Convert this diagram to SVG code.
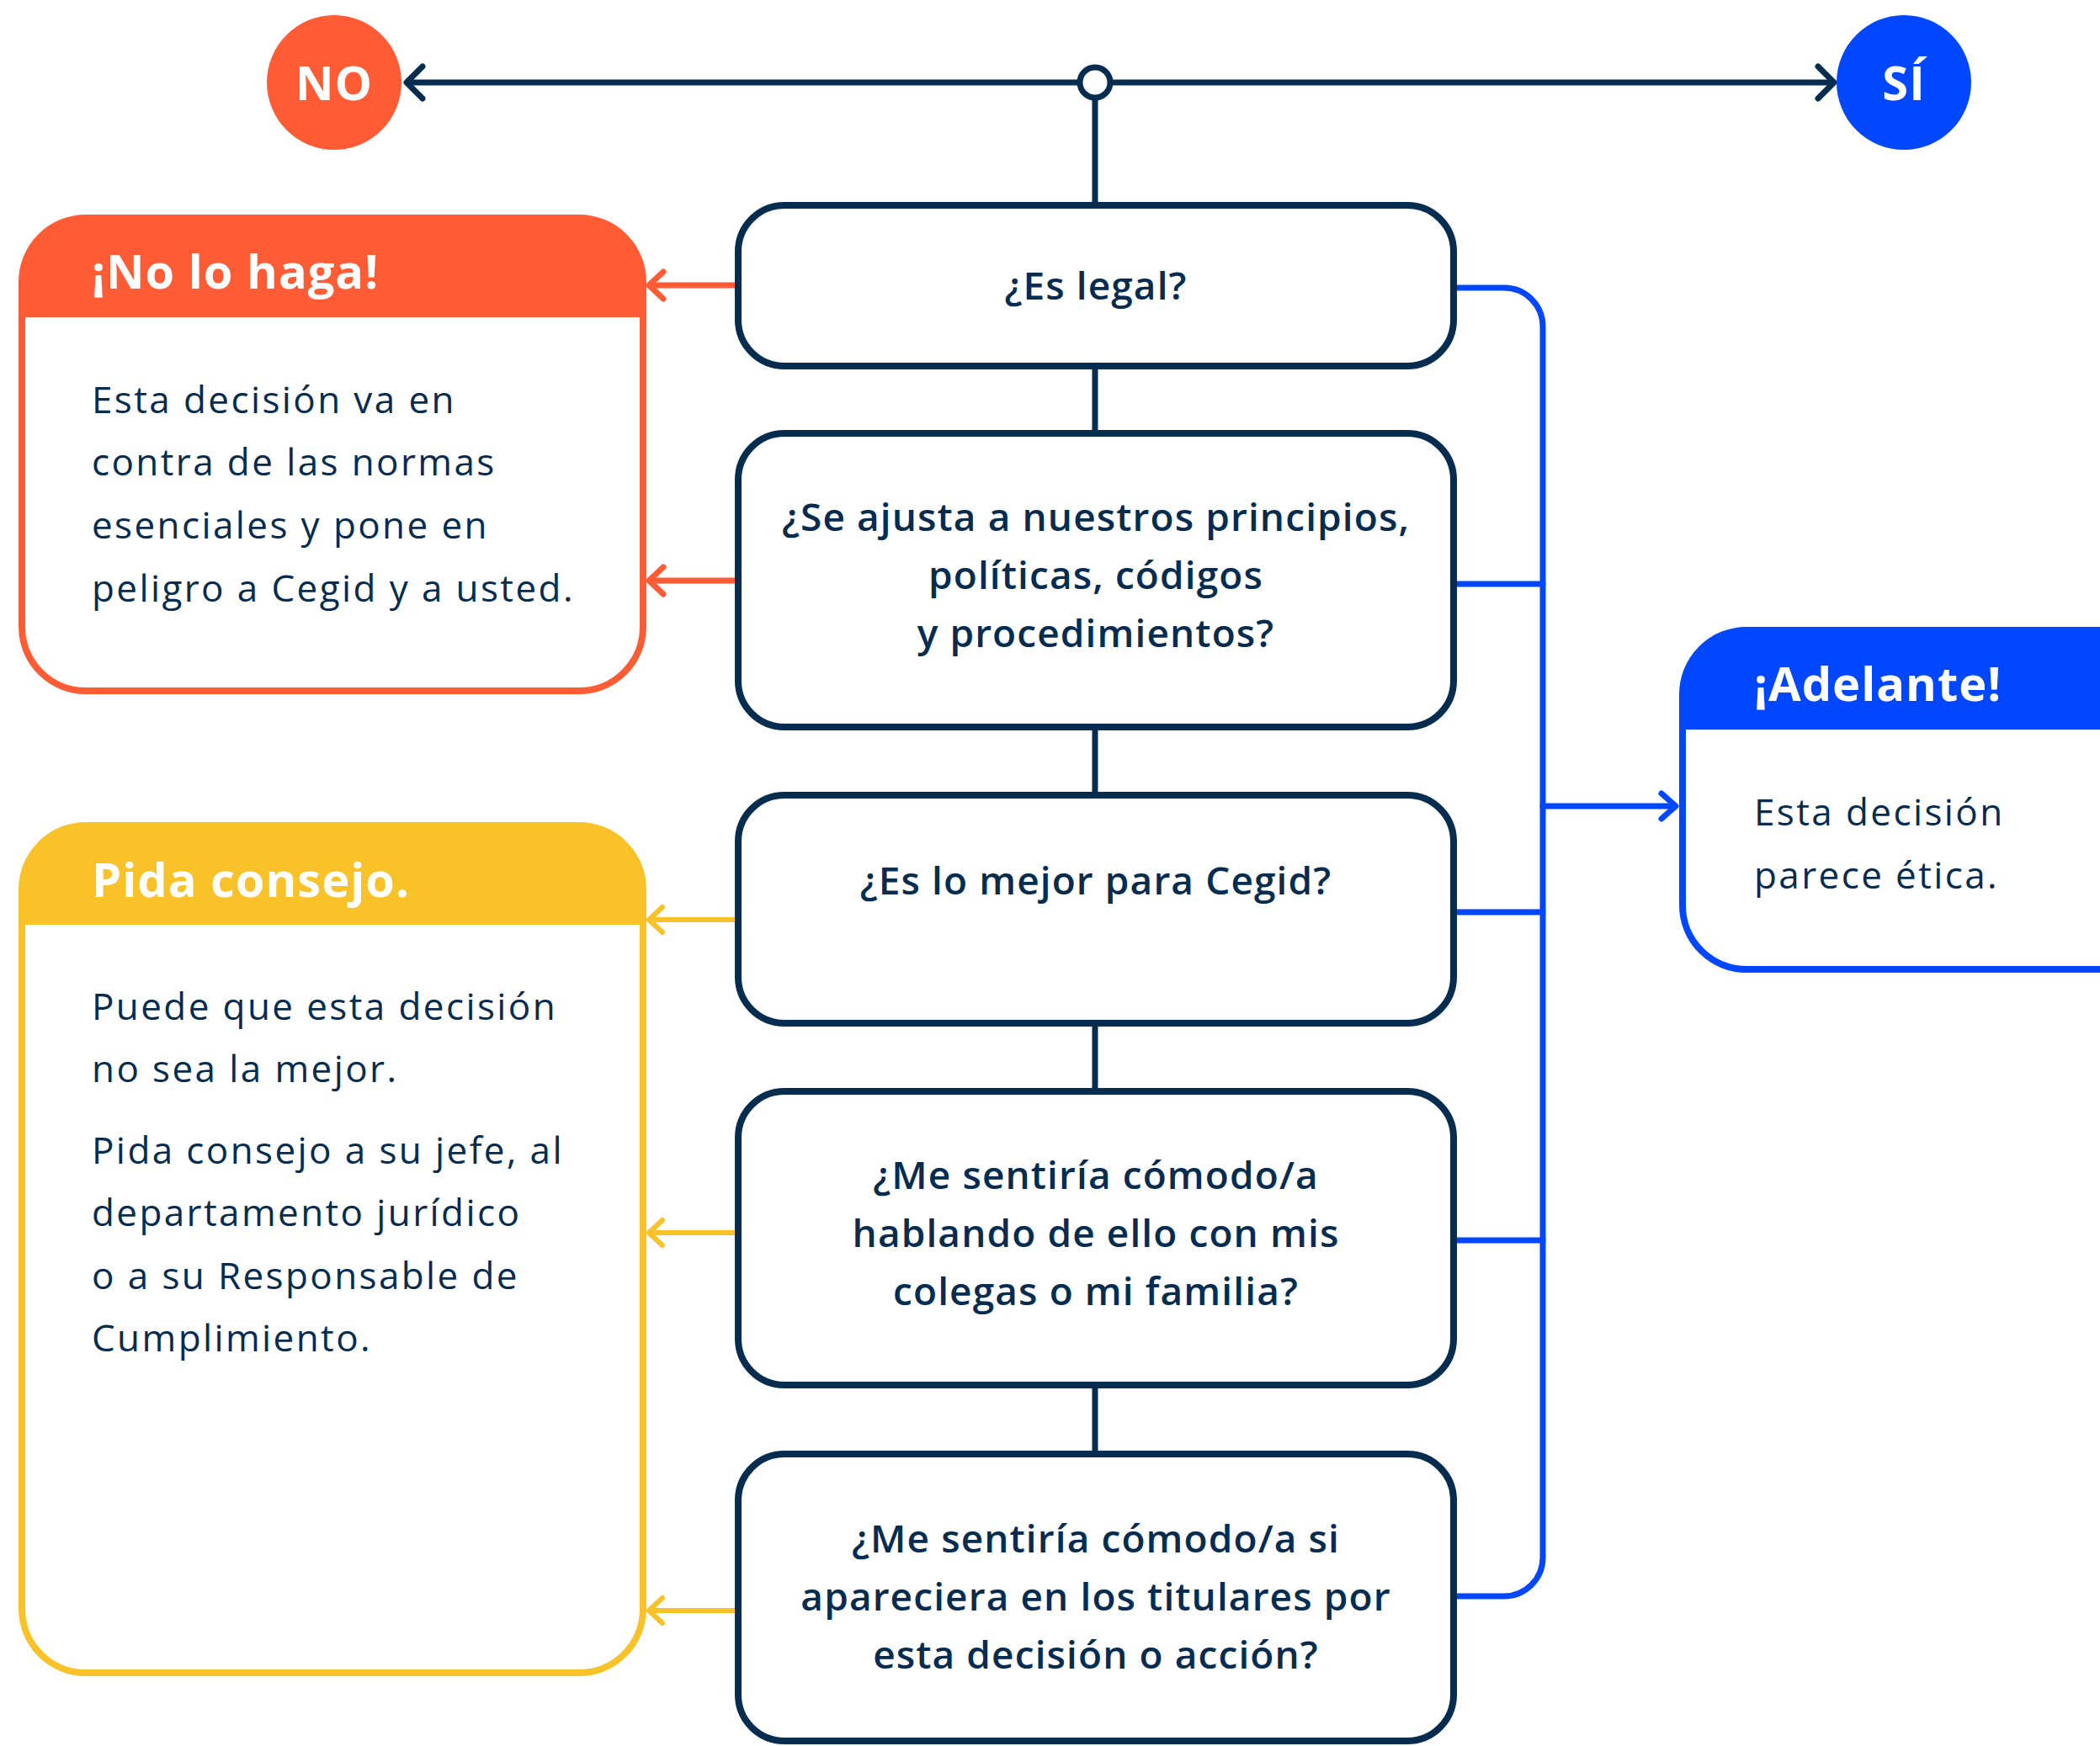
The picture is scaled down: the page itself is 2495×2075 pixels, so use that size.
<svg xmlns="http://www.w3.org/2000/svg" width="2495" height="2075" viewBox="0 0 2495 2075">
<style>
.q{fill:#fff;stroke:#062C50;stroke-width:8}
.qt{font-family:"Open Sans","Liberation Sans",sans-serif;font-weight:600;font-size:46px;fill:#062C50;text-anchor:middle;letter-spacing:1.1px}
.bt{font-family:"Open Sans","Liberation Sans",sans-serif;font-weight:400;font-size:44px;fill:#062C50;letter-spacing:2.4px}
.tt{font-family:"Open Sans","Liberation Sans",sans-serif;font-weight:700;font-size:56px;fill:#fff;letter-spacing:1px}
.navy{fill:none;stroke:#062C50;stroke-width:7;stroke-linecap:round;stroke-linejoin:round}
.or{fill:none;stroke:#FF5C36;stroke-width:7;stroke-linecap:round;stroke-linejoin:round}
.ye{fill:none;stroke:#F8C228;stroke-width:6;stroke-linecap:round;stroke-linejoin:round}
.bl{fill:none;stroke:#0047FF;stroke-width:7;stroke-linecap:round;stroke-linejoin:round}
</style>
<rect width="2495" height="2075" fill="#fff"/>
<g id="connectors">
  <line class="navy" x1="486" y1="98" x2="2176" y2="98"/>
  <polyline class="navy" points="502,79 483,98 502,117"/>
  <polyline class="navy" points="2160,79 2179,98 2160,117"/>
  <line class="navy" x1="1301" y1="116" x2="1301" y2="244"/>
  <line class="navy" x1="1301" y1="435" x2="1301" y2="515"/>
  <line class="navy" x1="1301" y1="864" x2="1301" y2="945"/>
  <line class="navy" x1="1301" y1="1216" x2="1301" y2="1297"/>
  <line class="navy" x1="1301" y1="1646" x2="1301" y2="1728"/>
  <circle cx="1301" cy="98" r="18" fill="#fff" stroke="#062C50" stroke-width="7"/>
  <line class="or" x1="875" y1="339" x2="772" y2="339"/>
  <polyline class="or" points="788,323 771,339 788,355"/>
  <line class="or" x1="875" y1="690" x2="772" y2="690"/>
  <polyline class="or" points="788,674 771,690 788,706"/>
  <line class="ye" x1="875" y1="1093" x2="772" y2="1093"/>
  <polyline class="ye" points="787,1078 771,1093 787,1108"/>
  <line class="ye" x1="875" y1="1465" x2="772" y2="1465"/>
  <polyline class="ye" points="787,1450 771,1465 787,1480"/>
  <line class="ye" x1="875" y1="1914" x2="772" y2="1914"/>
  <polyline class="ye" points="787,1899 771,1914 787,1929"/>
  <path class="bl" d="M1730,342 H1787 A46,46 0 0 1 1833,388 V1851 A46,46 0 0 1 1787,1897 H1730"/>
  <line class="bl" x1="1730" y1="694" x2="1833" y2="694"/>
  <line class="bl" x1="1730" y1="1084" x2="1833" y2="1084"/>
  <line class="bl" x1="1730" y1="1474" x2="1833" y2="1474"/>
  <line class="bl" x1="1833" y1="958" x2="1990" y2="958"/>
  <polyline class="bl" points="1974,943 1991,958 1974,973"/>
</g>
<g id="no">
  <circle cx="397" cy="98" r="80" fill="#FF5C36"/>
  <text x="397" y="119" class="tt" font-size="54" text-anchor="middle" letter-spacing="0">NO</text>
</g>
<g id="si">
  <circle cx="2262" cy="98" r="80" fill="#0047FF"/>
  <text x="2262" y="119" class="tt" font-size="54" text-anchor="middle" letter-spacing="0">SÍ</text>
</g>
<g id="q1">
  <rect class="q" x="877" y="244" width="850" height="191" rx="55"/>
  <text class="qt" x="1302" y="356">¿Es legal?</text>
</g>
<g id="q2">
  <rect class="q" x="877" y="515" width="850" height="349" rx="55"/>
  <text class="qt" x="1302" y="631">¿Se ajusta a nuestros principios,</text>
  <text class="qt" x="1302" y="700">políticas, códigos</text>
  <text class="qt" x="1302" y="769">y procedimientos?</text>
</g>
<g id="q3">
  <rect class="q" x="877" y="945" width="850" height="271" rx="55"/>
  <text class="qt" x="1302" y="1063">¿Es lo mejor para Cegid?</text>
</g>
<g id="q4">
  <rect class="q" x="877" y="1297" width="850" height="349" rx="55"/>
  <text class="qt" x="1302" y="1413">¿Me sentiría cómodo/a</text>
  <text class="qt" x="1302" y="1482">hablando de ello con mis</text>
  <text class="qt" x="1302" y="1551">colegas o mi familia?</text>
</g>
<g id="q5">
  <rect class="q" x="877" y="1728" width="850" height="341" rx="55"/>
  <text class="qt" x="1302" y="1845">¿Me sentiría cómodo/a si</text>
  <text class="qt" x="1302" y="1914">apareciera en los titulares por</text>
  <text class="qt" x="1302" y="1983">esta decisión o acción?</text>
</g>
<g id="no-lo-haga">
  <rect x="26" y="259" width="738" height="562" rx="76" fill="#fff" stroke="#FF5C36" stroke-width="8"/>
  <path d="M26,377 V335 A76,76 0 0 1 102,259 H688 A76,76 0 0 1 764,335 V377 Z" fill="#FF5C36"/>
  <text class="tt" x="109" y="343">¡No lo haga!</text>
  <text class="bt" x="109" y="491">Esta decisión va en</text>
  <text class="bt" x="109" y="565">contra de las normas</text>
  <text class="bt" x="109" y="640">esenciales y pone en</text>
  <text class="bt" x="109" y="715">peligro a Cegid y a usted.</text>
</g>
<g id="pida-consejo">
  <rect x="26" y="981" width="738" height="1007" rx="76" fill="#fff" stroke="#F8C228" stroke-width="8"/>
  <path d="M26,1099 V1057 A76,76 0 0 1 102,981 H688 A76,76 0 0 1 764,1057 V1099 Z" fill="#F8C228"/>
  <text class="tt" x="109" y="1066">Pida consejo.</text>
  <text class="bt" x="109" y="1212">Puede que esta decisión</text>
  <text class="bt" x="109" y="1286">no sea la mejor.</text>
  <text class="bt" x="109" y="1383">Pida consejo a su jefe, al</text>
  <text class="bt" x="109" y="1457">departamento jurídico</text>
  <text class="bt" x="109" y="1532">o a su Responsable de</text>
  <text class="bt" x="109" y="1606">Cumplimiento.</text>
</g>
<g id="adelante">
  <rect x="1999" y="749" width="742" height="403" rx="76" fill="#fff" stroke="#0047FF" stroke-width="8"/>
  <path d="M1999,867 V825 A76,76 0 0 1 2075,749 H2665 A76,76 0 0 1 2741,825 V867 Z" fill="#0047FF"/>
  <text class="tt" x="2084" y="833">¡Adelante!</text>
  <text class="bt" x="2084" y="981">Esta decisión</text>
  <text class="bt" x="2084" y="1056">parece ética.</text>
</g>
</svg>
